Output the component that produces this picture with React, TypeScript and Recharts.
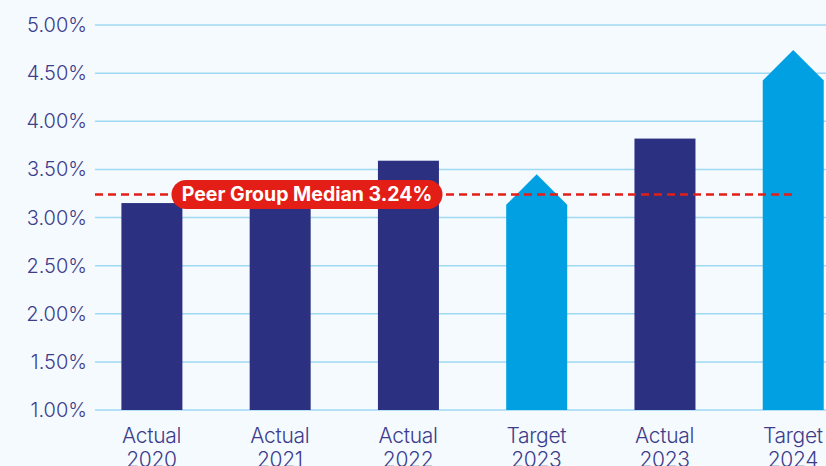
import React from "react";
import {
  BarChart,
  Bar,
  XAxis,
  YAxis,
  CartesianGrid,
  ReferenceLine,
  Cell,
} from "recharts";

const categories = [
  "Actual 2020",
  "Actual 2021",
  "Actual 2022",
  "Target 2023",
  "Actual 2023",
  "Target 2024",
];
const values = [3.15, 3.18, 3.59, 3.45, 3.82, 4.74];
const yTicks = [1, 1.5, 2, 2.5, 3, 3.5, 4, 4.5, 5];
const peerMedian = 3.24;

const NAVY = "#2b3080";
const SKY = "#00a0e3";
const RED = "#e31e17";
const TEXT = "#3d3d8c";

const data = categories.map((c, i) => ({ name: c, value: values[i] }));

// target bars get an arrow head, actuals stay flat
const BarShape = (props: any) => {
  const { x, y, width, height, payload } = props;
  if (!payload.name.startsWith("Target")) {
    return <rect x={x} y={y} width={width} height={height} fill={NAVY} />;
  }
  const half = width / 2;
  const pts = [
    [x, y + height],
    [x, y + half],
    [x + half, y],
    [x + width, y + half],
    [x + width, y + height],
  ]
    .map((p) => p.join(","))
    .join(" ");
  return <polygon points={pts} fill={SKY} />;
};

const XTick = (props: any) => {
  const { x, y, payload } = props;
  const [a, b] = String(payload.value).split(" ");
  return (
    <text
      x={x}
      y={y}
      textAnchor="middle"
      fill={TEXT}
      fontSize={21}
      fontFamily="Inter, sans-serif"
      fontWeight={300}
      letterSpacing={-0.3}
    >
      <tspan x={x} dy={25}>
        {a}
      </tspan>
      <tspan x={x} dy={24}>
        {b}
      </tspan>
    </text>
  );
};

const MedianLabel = (props: any) => {
  const vb = props.viewBox || {};
  const cx = vb.x + 212;
  const cy = vb.y;
  const w = 271;
  const h = 29;
  return (
    <g>
      <rect x={cx - w / 2} y={cy - h / 2} width={w} height={h} rx={14.5} fill={RED} />
      <text
        x={cx}
        y={cy}
        dy={7}
        textAnchor="middle"
        fill="#fff"
        fontSize={19.5}
        fontWeight={700}
        fontFamily="Inter, sans-serif"
      >
        Peer Group Median {peerMedian.toFixed(2)}%
      </text>
    </g>
  );
};

const MedianLine = (props: any) => {
  const { x1, y1, x2 } = props;
  return (
    <line
      x1={x1}
      y1={y1}
      x2={x2 - 60}
      y2={y1}
      stroke={RED}
      strokeWidth={2.5}
      strokeDasharray="8 5"
    />
  );
};

export default function App() {
  return (
    <div
      style={{
        position: "fixed",
        left: 0,
        top: 0,
        width: 826,
        height: 466,
        overflow: "hidden",
        background: "#f5faff",
      }}
    >
      <BarChart
        width={860}
        height={500}
        data={data}
        margin={{ top: 25, right: 3, bottom: 0, left: 0 }}
      >
        <CartesianGrid vertical={false} stroke="#9fd9f4" strokeWidth={1.5} />
        <XAxis
          dataKey="name"
          axisLine={false}
          tickLine={false}
          height={90}
          interval={0}
          padding={{ left: -7.6, right: 0 }}
          tick={<XTick />}
        />
        <YAxis
          domain={[1, 5]}
          ticks={yTicks}
          width={95}
          axisLine={false}
          tickLine={false}
          tickFormatter={(v: number) => `${v.toFixed(2)}%`}
          tick={{ fill: TEXT, fontSize: 20, fontFamily: "Inter, sans-serif", fontWeight: 300 }}
        />
        <Bar dataKey="value" barSize={61} shape={<BarShape />} isAnimationActive={false}>
          {data.map((d) => (
            <Cell key={d.name} />
          ))}
        </Bar>
        <ReferenceLine
          y={peerMedian}
          shape={<MedianLine />}
          label={<MedianLabel />}
        />
      </BarChart>
    </div>
  );
}
